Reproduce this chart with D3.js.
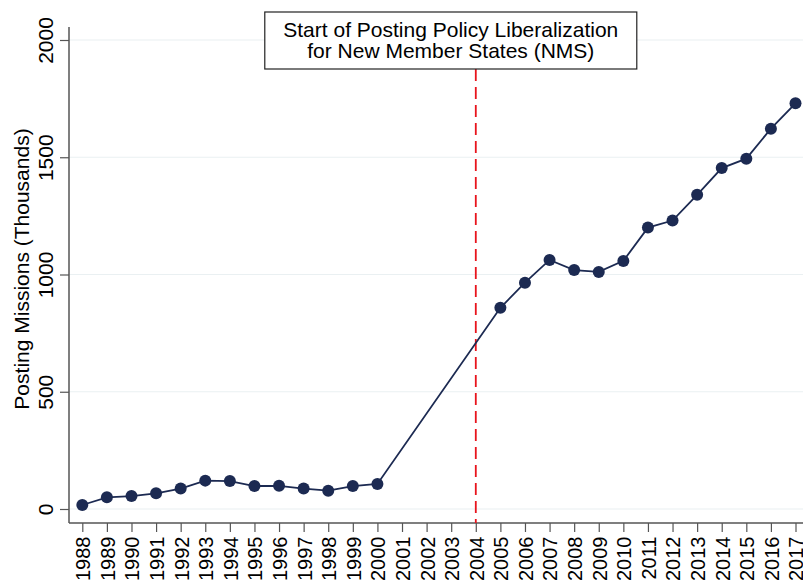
<!DOCTYPE html>
<html>
<head>
<meta charset="utf-8">
<script src="https://cdn.jsdelivr.net/npm/d3@7"></script>
<style>
  body { margin: 0; background: #fff; }
  svg { display: block; font-family: "Liberation Sans", Arial, sans-serif; }
</style>
</head>
<body>
<div id="chart"></div>
<script>
// posting missions, thousands (2001-2003 not observed)
var years = [1988, 1989, 1990, 1991, 1992, 1993, 1994, 1995, 1996, 1997, 1998, 1999, 2000,
             2005, 2006, 2007, 2008, 2009, 2010, 2011, 2012, 2013, 2014, 2015, 2016, 2017];
var missions = [17, 50, 55, 67, 87, 121, 119, 98, 99, 87, 78, 98, 107,
                858, 965, 1062, 1019, 1011, 1058, 1200, 1230, 1340, 1454, 1494, 1622, 1730];
var yTicks = [0, 500, 1000, 1500, 2000];
var policyYear = 2004;
var noteLines = ["Start of Posting Policy Liberalization", "for New Member States (NMS)"];

var W = 803, H = 581;

var svg = d3.select("#chart").append("svg")
    .attr("width", W)
    .attr("height", H);

var x = d3.scaleLinear().domain([1988, 2017]).range([82.3, 795.5]),
    y = d3.scaleLinear().domain([0, 2000]).range([509, 40]);

var axisX = 69, axisBottom = 523, axisTop = 27;

// grid
svg.append("g").selectAll("line")
    .data(yTicks)
    .enter().append("line")
    .attr("x1", axisX).attr("x2", W)
    .attr("y1", function (d) { return y(d); })
    .attr("y2", function (d) { return y(d); })
    .attr("stroke", "#eaf0f2")
    .attr("stroke-width", 1.2);

// y axis
var gy = svg.append("g")
    .attr("transform", "translate(" + axisX + ",0)")
    .call(d3.axisLeft(y).tickValues(yTicks).tickSize(9).tickPadding(0).tickFormat(d3.format("d")));
gy.select(".domain").remove();
gy.selectAll(".tick line").attr("stroke", "#555").attr("stroke-width", 1.2);
gy.selectAll(".tick text")
    .attr("font-size", 21)
    .attr("fill", "#000")
    .attr("text-anchor", "middle")
    .attr("transform", "translate(-15.7,0) rotate(-90)")
    .attr("x", 0).attr("y", 0).attr("dy", 0);
gy.append("line")
    .attr("x1", 0).attr("x2", 0)
    .attr("y1", axisTop).attr("y2", axisBottom)
    .attr("stroke", "#555").attr("stroke-width", 1.5);

// x axis
var allYears = d3.range(1988, 2018);
var gx = svg.append("g")
    .attr("transform", "translate(0," + axisBottom + ")")
    .call(d3.axisBottom(x).tickValues(allYears).tickSize(9).tickFormat(d3.format("d")));
gx.select(".domain").remove();
gx.selectAll(".tick line").attr("stroke", "#555").attr("stroke-width", 1.2);
gx.selectAll(".tick text")
    .attr("font-size", 20)
    .attr("fill", "#000")
    .attr("text-anchor", "end")
    .attr("transform", "translate(7.4,13.5) rotate(-90)")
    .attr("x", 0).attr("y", 0).attr("dy", 0);
gx.append("line")
    .attr("x1", axisX).attr("x2", W)
    .attr("y1", 0).attr("y2", 0)
    .attr("stroke", "#555").attr("stroke-width", 1.5);

// y title
svg.append("text")
    .attr("transform", "translate(28.5,269) rotate(-90)")
    .attr("text-anchor", "middle")
    .attr("font-size", 21)
    .text("Posting Missions (Thousands)");

// policy line
var boxTop = 12, boxBottom = 69;
svg.append("line")
    .attr("x1", x(policyYear)).attr("x2", x(policyYear))
    .attr("y1", boxBottom).attr("y2", axisBottom)
    .attr("stroke", "#e8141c")
    .attr("stroke-width", 1.8)
    .attr("stroke-dasharray", "12,6");

// annotation box
var bx = x(policyYear) - 211, bw = 372;
svg.append("rect")
    .attr("x", bx).attr("y", boxTop)
    .attr("width", bw).attr("height", boxBottom - boxTop)
    .attr("fill", "#fff")
    .attr("stroke", "#222")
    .attr("stroke-width", 1.2);
svg.append("g").selectAll("text")
    .data(noteLines)
    .enter().append("text")
    .attr("x", bx + bw / 2)
    .attr("y", function (d, i) { return 36.6 + i * 21.5; })
    .attr("text-anchor", "middle")
    .attr("font-size", 21)
    .text(function (d) { return d; });

// series
var pts = years.map(function (d, i) { return [d, missions[i]]; });
svg.append("path")
    .datum(pts)
    .attr("fill", "none")
    .attr("stroke", "#1c2a52")
    .attr("stroke-width", 1.8)
    .attr("d", d3.line()
        .x(function (d) { return x(d[0]); })
        .y(function (d) { return y(d[1]); }));

svg.append("g").selectAll("circle")
    .data(pts)
    .enter().append("circle")
    .attr("cx", function (d) { return x(d[0]); })
    .attr("cy", function (d) { return y(d[1]); })
    .attr("r", 6)
    .attr("fill", "#1c2a52");
</script>
</body>
</html>
